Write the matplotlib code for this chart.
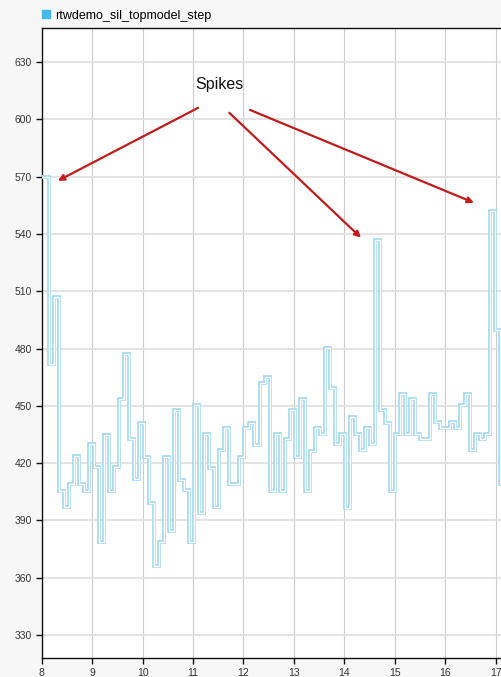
import numpy as np
import matplotlib.pyplot as plt
from matplotlib.lines import Line2D

plt.rcParams['font.family'] = ['Liberation Sans', 'DejaVu Sans']

# step signal, one value per sample
values = [570, 570, 472, 507, 405.5, 397, 409, 424, 409, 405.5,
          430, 418, 378.5, 435, 405.5, 418, 453.4, 477.3, 432.5, 411.6,
          441.2, 423.5, 399.4, 366.3, 378.5, 423.5, 384.6, 447.7, 411.3, 405.9,
          378.5, 450.5, 393.7, 435.5, 417.7, 397.1, 426.8, 438.6, 409, 409,
          423.3, 438.6, 441.2, 429.5, 462.1, 465.1, 405.5, 435.1, 405.5, 432.5,
          447.7, 423.3, 453.4, 405.5, 426.4, 438.6, 435.5, 480.4, 459.5, 429.9,
          435.5, 396.8, 444.2, 435.5, 426.9, 438.6, 429.9, 537.1, 447.7, 441.2,
          405.5, 435.5, 456.4, 435.5, 453.4, 435.5, 432.5, 432.5, 456.4, 441.6,
          438.6, 438.6, 441.6, 438.6, 450.5, 456.4, 426.9, 435.5, 432.5, 435.5,
          552.2, 489.5, 409]
t_start = 7.94   # time of first sample
dt = 0.0995      # sample time

xticks = [8, 9, 10, 11, 12, 13, 14, 15, 16, 17]
yticks = [330, 360, 390, 420, 450, 480, 510, 540, 570, 600, 630]

# annotation arrows: (start, end) in data coords
arrows = [((11.10, 606.1), (8.32, 567.9)),
          ((11.72, 603.5), (14.33, 538.1)),
          ((12.13, 605.0), (16.57, 556.4))]

edges = t_start + dt * np.arange(len(values) + 1)

fig = plt.figure(figsize=(5.02, 6.77), dpi=100, facecolor='#f7f7f7')
ax = fig.add_axes([0.0831, 0.0281, 0.9169, 0.9305])
ax.set_facecolor('white')

# hollow light-blue trace: blue line with thin white core
ax.stairs(values, edges, baseline=None, color='#a3daf3', lw=2.7, zorder=3)
ax.stairs(values, edges, baseline=None, color='white', lw=1.0, zorder=4)

ax.set_xlim(8, 17.126)
ax.set_ylim(318.0, 647.9)
ax.set_xticks(xticks)
ax.set_yticks(yticks)

ax.grid(axis='x', color='#cccccc', lw=0.8)
ax.grid(axis='y', color='#e0e0e0', lw=1.3)
ax.set_axisbelow(True)

ax.spines['right'].set_visible(False)
for s in ['left', 'bottom', 'top']:
    ax.spines[s].set_color('#111111')
    ax.spines[s].set_linewidth(1.0)
ax.tick_params(direction='out', length=4, width=1, color='#111111',
               labelsize=7.5, labelcolor='#333333', pad=3)

ax.text(11.53, 618.5, 'Spikes', ha='center', va='center', fontsize=11.5,
        color='#111111')
for start, end in arrows:
    ax.annotate('', xy=end, xytext=start,
                arrowprops=dict(arrowstyle='-|>', color='#c41a1a', lw=1.6,
                                mutation_scale=9, shrinkA=0, shrinkB=0))

handle = Line2D([], [], marker='s', ls='', color='#45b6e8', markersize=5.5,
                label='rtwdemo_sil_topmodel_step')
fig.legend(handles=[handle], loc='center left', bbox_to_anchor=(0.082, 0.9771),
           frameon=False, fontsize=9, handlelength=0.8, handletextpad=0.3,
           borderpad=0, borderaxespad=0)

fig.savefig('out.png', dpi=100, facecolor=fig.get_facecolor())
